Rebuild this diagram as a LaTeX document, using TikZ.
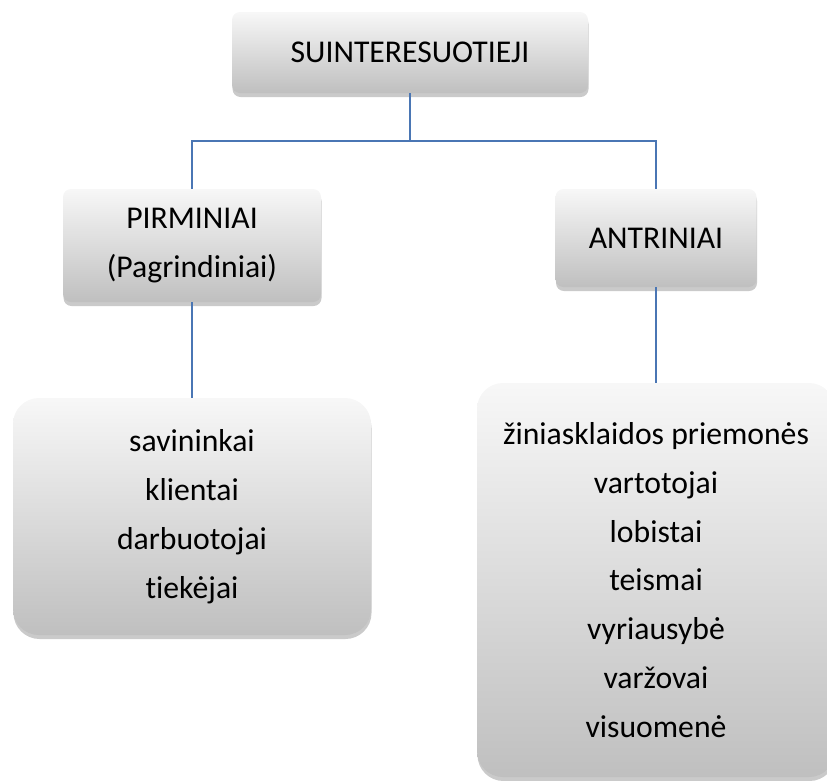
\documentclass[tikz,border=0pt]{standalone}
\usepackage{fontspec}
\setmainfont{Carlito}[Ligatures=NoCommon]
\usetikzlibrary{shadows}
\definecolor{linkblue}{HTML}{4A76B4}
\tikzset{
  box/.style={rounded corners=8pt, top color=white!97!black, bottom color=white!75!black,
    draw=none, align=center, inner sep=0pt,
    font=\fontsize{31.7}{48.8}\selectfont,
    drop shadow={shadow xshift=0.5pt, shadow yshift=-4pt, opacity=0.35, fill=black!60}},
  bigbox/.style={box, rounded corners=26pt},
  link/.style={draw=linkblue, line width=1.4pt}
}
\begin{document}
\begin{tikzpicture}[x=1pt,y=-1pt]
\useasboundingbox (0,0) rectangle (827,780);
\clip (0,0) rectangle (827,780);
\node[box, minimum width=356pt, minimum height=81pt] (top) at (410,52.5) {SUINTERESUOTIEJI};
\node[box, minimum width=258pt, minimum height=113pt] (pir) at (192,245.5) {PIRMINIAI\\(Pagrindiniai)};
\node[box, minimum width=201pt, minimum height=98pt] (ant) at (656,238) {ANTRINIAI};
\node[bigbox, minimum width=358pt, minimum height=237pt] (left) at (192,516.5) {savininkai\\klientai\\darbuotojai\\tiekėjai};
\node[bigbox, minimum width=358pt, minimum height=394pt] (right) at (656,580) {žiniasklaidos priemonės\\vartotojai\\lobistai\\teismai\\vyriausybė\\varžovai\\visuomenė};
\coordinate (hj) at (410,141);
\draw[link] (top.south) -- (hj);
\draw[link] (pir.north) |- (hj) -| (ant.north);
\draw[link] (pir.south) -- (left.north);
\draw[link] (ant.south) -- (right.north);
\end{tikzpicture}
\end{document}
